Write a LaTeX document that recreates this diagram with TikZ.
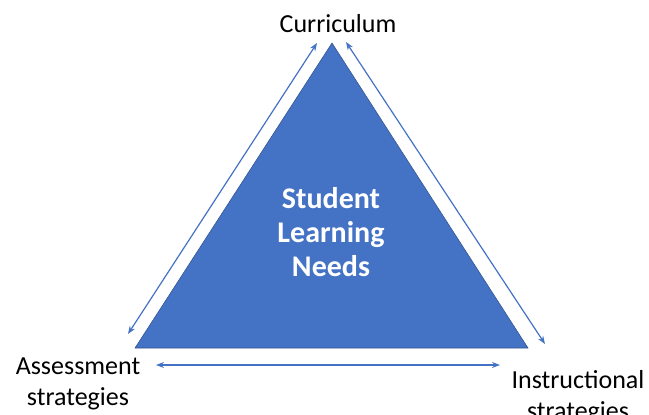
\documentclass[tikz,border=0pt]{standalone}
\usepackage{fontspec}
\setmainfont{Carlito}
\usepackage{tikz}
\usetikzlibrary{arrows.meta}
\definecolor{triblue}{HTML}{4472C4}
\definecolor{triedge}{HTML}{2F528F}

\begin{document}
\begin{tikzpicture}[x=0.75pt,y=-0.75pt,
	corner/.style={font=\fontsize{19.5}{23.5}\selectfont,align=center,inner sep=0pt},
	link/.style={{Stealth[length=6pt,width=4.5pt]}-{Stealth[length=6pt,width=4.5pt]},draw=triblue,line width=0.9pt}]
	\useasboundingbox (0,0) rectangle (649,414);
	% the triangle
	\coordinate (top) at (332,43);
	\coordinate (bl) at (135,348);
	\coordinate (br) at (528,348);
	\filldraw[fill=triblue,draw=triedge,line width=0.4pt] (top) -- (bl) -- (br) -- cycle;
	\node[text=white,font=\bfseries\fontsize{22.5}{25.5}\selectfont,align=center] (needs) at (331,232) {Student\\Learning\\Needs};
	% corner labels
	\node[corner,anchor=base] (curr) at (338,32) {Curriculum};
	\node[corner] (assess) at (78,384) {Assessment\\strategies};
	\node[corner] (instr) at (578,397) {Instructional\\strategies};
	% arrows along the sides
	\coordinate (l1) at (317,43); \coordinate (l2) at (128,334);
	\coordinate (r1) at (346,42); \coordinate (r2) at (545,344);
	\coordinate (b1) at (156,365); \coordinate (b2) at (500,365);
	\draw[link] (l1) -- (l2);
	\draw[link] (r1) -- (r2);
	\draw[link] (b1) -- (b2);
\end{tikzpicture}
\end{document}
